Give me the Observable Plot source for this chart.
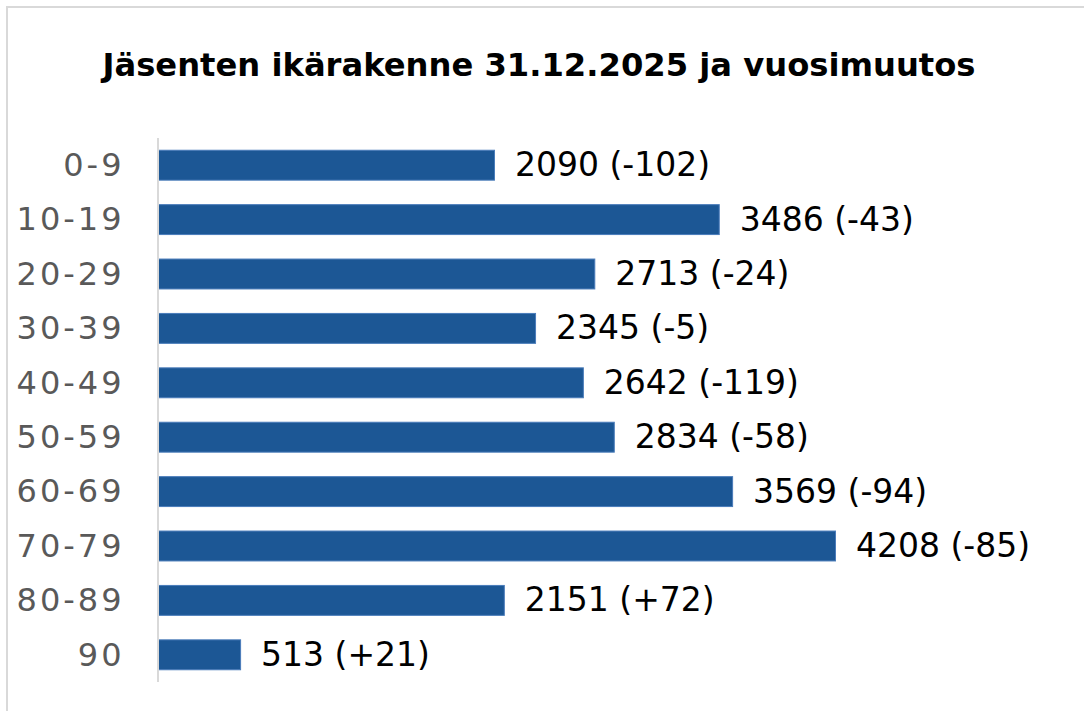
<!DOCTYPE html>
<html>
<head>
<meta charset="utf-8">
<script src="https://cdn.jsdelivr.net/npm/d3@7"></script>
<script src="https://cdn.jsdelivr.net/npm/@observablehq/plot@0.6"></script>
<style>
  html, body { margin: 0; padding: 0; background: #fff; }
  #wrap { position: relative; width: 1084px; height: 711px; overflow: hidden; font-family: "DejaVu Sans", Verdana, sans-serif; }
  #frame { position: absolute; left: 6px; top: 6px; width: 1200px; height: 800px; border-top: 2px solid #d9d9d9; border-left: 2px solid #d9d9d9; box-sizing: border-box; }
  #title { position: absolute; left: 0; top: 45px; width: 1078px; text-align: center; font-weight: bold; font-size: 32.2px; line-height: 40px; color: #000; }
  #chart { position: absolute; left: 0; top: 0; }
</style>
</head>
<body>
<div id="wrap">
  <div id="frame"></div>
  <div id="chart"></div>
  <div id="title">Jäsenten ikärakenne 31.12.2025 ja vuosimuutos</div>
</div>
<script>
const categories = ["0-9", "10-19", "20-29", "30-39", "40-49", "50-59", "60-69", "70-79", "80-89", "90"];
const members = [2090, 3486, 2713, 2345, 2642, 2834, 3569, 4208, 2151, 513];
const changes = [-102, -43, -24, -5, -119, -58, -94, -85, 72, 21];

const data = categories.map((c, i) => ({
  age: c,
  value: members[i],
  label: `${members[i]} (${changes[i] > 0 ? "+" : ""}${changes[i]})`
}));

const chart = Plot.plot({
  width: 1084,
  height: 711,
  marginTop: 138,
  marginBottom: 29,
  marginLeft: 158,
  marginRight: 121,
  style: { fontFamily: "DejaVu Sans, Verdana, sans-serif", background: "transparent" },
  x: { domain: [0, 5000], axis: null },
  y: { domain: categories, paddingInner: 0.45, paddingOuter: 0.225, round: false, label: null, tickSize: 0, tickPadding: 34 },
  marks: [
    Plot.barX(data, { x: "value", y: "age", fill: "#1c5795", stroke: "#4a7cba", strokeWidth: 1 }),
    Plot.ruleX([0], { stroke: "#d9d9d9", strokeWidth: 2, dx: -0.5 }),
    Plot.axisY({ tickSize: 0, tickPadding: 34, fontSize: 32, fill: "#595959", label: null }),
    Plot.text(data, { x: "value", y: "age", text: "label", textAnchor: "start", dx: 20, fontSize: 33, fill: "#000" })
  ]
});
chart.querySelectorAll("g[aria-label='y-axis tick label'] text").forEach(t => t.setAttribute("letter-spacing", "3"));
document.getElementById("chart").appendChild(chart);
</script>
</body>
</html>
